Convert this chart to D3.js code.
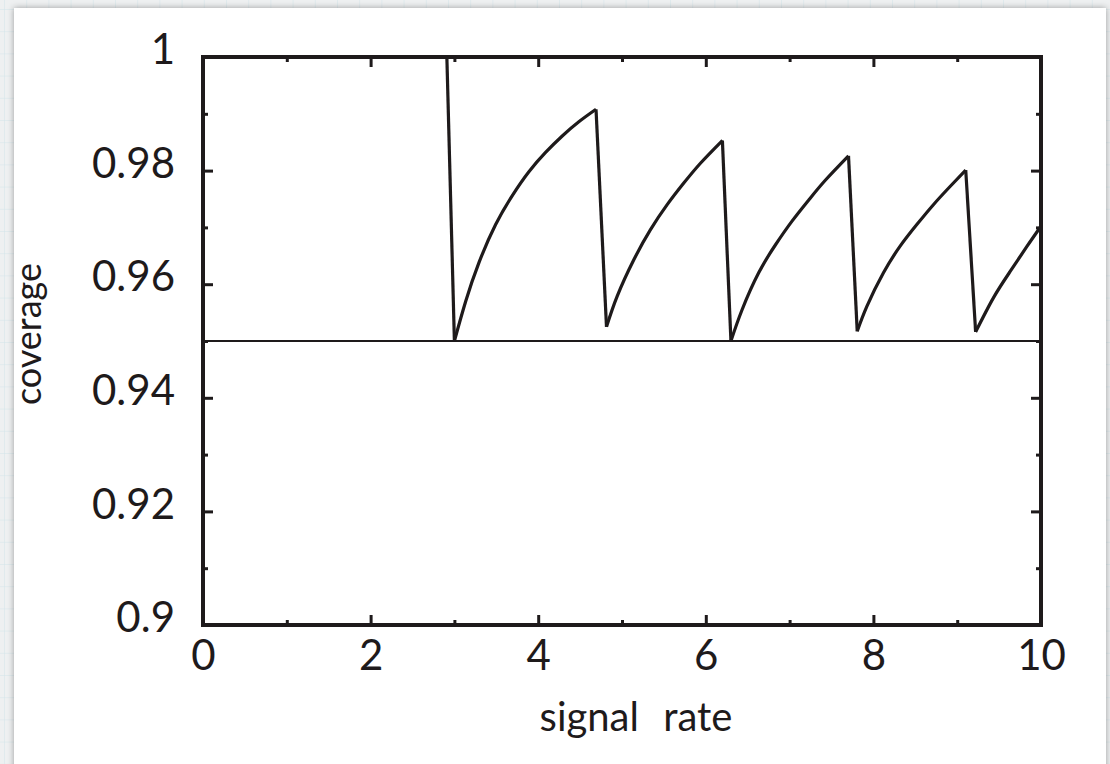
<!DOCTYPE html>
<html>
<head>
<meta charset="utf-8">
<script src="https://cdn.jsdelivr.net/npm/d3@7"></script>
<style>
  body { margin: 0; background: #eef0f1; }
  svg { display: block; }
  text { font-family: Lato, "Open Sans", sans-serif; fill: #1e1a1b; }
</style>
</head>
<body>
<div class="chart"></div>
<script>
// values
var rates = [0, 2.91, 3.0, 3.135, 3.293, 3.492, 3.691, 3.889, 4.088, 4.287, 4.485, 4.69,
             4.815, 4.943, 5.141, 5.34, 5.539, 5.737, 5.936, 6.198,
             6.3, 6.433, 6.631, 6.83, 7.029, 7.227, 7.426, 7.703,
             7.807, 7.922, 8.12, 8.319, 8.518, 8.716, 8.915, 9.102,
             9.22, 9.432, 9.63, 9.83, 10];
var coverage = [1, 1, 0.950, 0.9570, 0.9638, 0.9705, 0.9756, 0.9798, 0.9832, 0.9861, 0.9886, 0.9908,
                0.9525, 0.9579, 0.9643, 0.9696, 0.974, 0.9778, 0.9813, 0.9853,
                0.950, 0.9555, 0.962, 0.9669, 0.9711, 0.9748, 0.9783, 0.9826,
                0.9517, 0.9561, 0.962, 0.9667, 0.9705, 0.974, 0.9772, 0.9801,
                0.9516, 0.9576, 0.9622, 0.9666, 0.9702];
var nominal = 0.95;

var xMajor = [0, 2, 4, 6, 8, 10];
var xMinor = [1, 3, 5, 7, 9];
var yMajor = [0.9, 0.92, 0.94, 0.96, 0.98, 1];
var yMinor = [0.91, 0.93, 0.95, 0.97, 0.99];
var yLabels = ["0.9", "0.92", "0.94", "0.96", "0.98", "1"];

var width = 1110, height = 764;
var ink = "#1e1a1b";

var svg = d3.select(".chart").append("svg")
    .attr("width", width)
    .attr("height", height);

// graph paper background
var defs = svg.append("defs");
var pat = defs.append("pattern")
    .attr("id", "grid")
    .attr("width", 22.2)
    .attr("height", 22.2)
    .attr("patternUnits", "userSpaceOnUse")
    .attr("x", 4).attr("y", 9);
pat.append("rect").attr("width", 22.2).attr("height", 22.2).attr("fill", "#eef0f1");
pat.append("path")
    .attr("d", "M0,0V22.2M0,0H22.2")
    .attr("stroke", "#d3e5ea")
    .attr("stroke-width", 1)
    .attr("fill", "none");

var shadow = defs.append("filter").attr("id", "shadow")
    .attr("x", "-5%").attr("y", "-5%").attr("width", "110%").attr("height", "110%");
shadow.append("feDropShadow")
    .attr("dx", 0).attr("dy", 0)
    .attr("stdDeviation", 3)
    .attr("flood-color", "#000")
    .attr("flood-opacity", 0.35);

svg.append("rect").attr("width", width).attr("height", height).attr("fill", "url(#grid)");
svg.append("rect")
    .attr("x", 14).attr("y", 8)
    .attr("width", 1092).attr("height", 770)
    .attr("fill", "#ffffff")
    .attr("filter", "url(#shadow)");

var x = d3.scaleLinear().domain([0, 10]).range([203, 1041]);
var y = d3.scaleLinear().domain([0.9, 1]).range([625, 57]);

// nominal level line
svg.append("line")
    .attr("x1", x(0)).attr("x2", x(10))
    .attr("y1", y(nominal)).attr("y2", y(nominal))
    .attr("stroke", ink)
    .attr("stroke-width", 2);

// coverage curve: smooth rising runs, straight drops
var pts = rates.map(function (r, i) { return [r, coverage[i]]; });
var runs = [[pts[0]]];
for (var i = 1; i < pts.length; i++) {
    if (pts[i][1] < pts[i - 1][1]) runs.push([]);
    runs[runs.length - 1].push(pts[i]);
}
var smooth = d3.line()
    .x(function (d) { return x(d[0]); })
    .y(function (d) { return y(d[1]); })
    .curve(d3.curveNatural);
var straight = d3.line()
    .x(function (d) { return x(d[0]); })
    .y(function (d) { return y(d[1]); });

var curveG = svg.append("g")
    .attr("fill", "none")
    .attr("stroke", ink)
    .attr("stroke-width", 3.2)
    .attr("stroke-linejoin", "round");
runs.forEach(function (run) {
    curveG.append("path").attr("d", smooth(run));
});
for (var j = 1; j < pts.length; j++) {
    if (pts[j][1] < pts[j - 1][1]) {
        curveG.append("path").attr("d", straight([pts[j - 1], pts[j]]));
    }
}

// axes with inside ticks
function styleAxis(g) {
    g.select(".domain").remove();
    g.selectAll("line").attr("stroke", ink).attr("stroke-width", 3);
    g.selectAll("text").attr("font-size", 42).attr("fill", ink);
}

svg.append("g")
    .attr("transform", "translate(0," + y(0.9) + ")")
    .call(d3.axisBottom(x).tickValues(xMajor).tickSize(-10).tickPadding(15).tickFormat(d3.format("d")))
    .call(styleAxis);
svg.append("g")
    .attr("transform", "translate(0," + y(0.9) + ")")
    .call(d3.axisBottom(x).tickValues(xMinor).tickSize(-5).tickFormat(""))
    .call(styleAxis);
svg.append("g")
    .attr("transform", "translate(0," + y(1) + ")")
    .call(d3.axisTop(x).tickValues(xMajor).tickSize(-10).tickFormat(""))
    .call(styleAxis);
svg.append("g")
    .attr("transform", "translate(0," + y(1) + ")")
    .call(d3.axisTop(x).tickValues(xMinor).tickSize(-5).tickFormat(""))
    .call(styleAxis);

svg.append("g")
    .attr("transform", "translate(" + x(0) + ",0)")
    .call(d3.axisLeft(y).tickValues(yMajor).tickSize(-10).tickPadding(28)
        .tickFormat(function (d, i) { return yLabels[i]; }))
    .call(styleAxis)
    .selectAll("text").attr("dy", "0.16em");
svg.append("g")
    .attr("transform", "translate(" + x(0) + ",0)")
    .call(d3.axisLeft(y).tickValues(yMinor).tickSize(-5).tickFormat(""))
    .call(styleAxis);
svg.append("g")
    .attr("transform", "translate(" + x(10) + ",0)")
    .call(d3.axisRight(y).tickValues(yMajor).tickSize(-10).tickFormat(""))
    .call(styleAxis);
svg.append("g")
    .attr("transform", "translate(" + x(10) + ",0)")
    .call(d3.axisRight(y).tickValues(yMinor).tickSize(-5).tickFormat(""))
    .call(styleAxis);

// frame
svg.append("rect")
    .attr("x", x(0)).attr("y", y(1))
    .attr("width", x(10) - x(0)).attr("height", y(0.9) - y(1))
    .attr("fill", "none")
    .attr("stroke", ink)
    .attr("stroke-width", 4);

// axis titles
svg.append("text")
    .attr("x", 636)
    .attr("y", 731)
    .attr("text-anchor", "middle")
    .attr("font-size", 40)
    .attr("word-spacing", 14)
    .text("signal rate");

svg.append("text")
    .attr("transform", "translate(41,334) rotate(-90)")
    .attr("text-anchor", "middle")
    .attr("font-size", 36)
    .text("coverage");
</script>
</body>
</html>
